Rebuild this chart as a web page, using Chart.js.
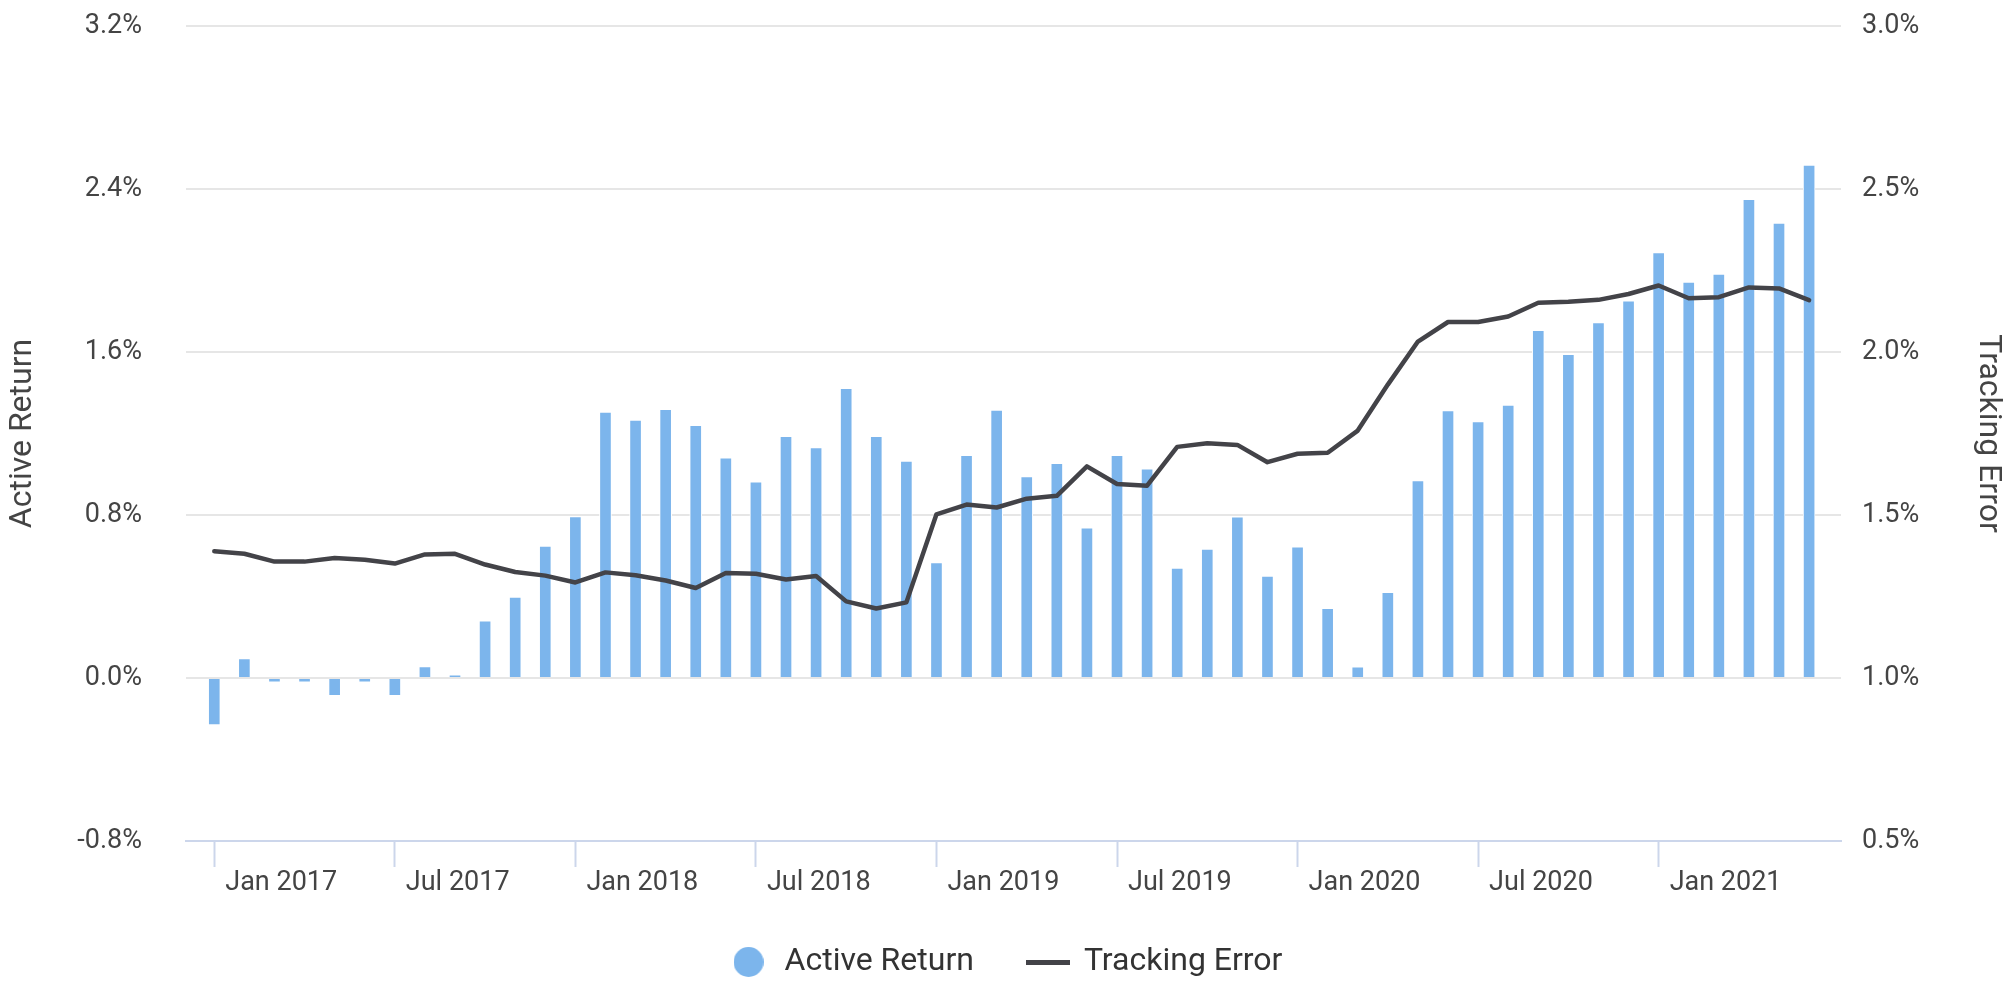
<!DOCTYPE html>
<html>
<head>
<meta charset="utf-8">
<title>Active Return vs Tracking Error</title>
<script src="https://cdn.jsdelivr.net/npm/chart.js@4.4.1/dist/chart.umd.min.js"></script>
<style>
  html, body { margin: 0; padding: 0; background: #ffffff; }
  #chart-box { width: 2011px; height: 981px; }
</style>
</head>
<body>
<div id="chart-box"><canvas id="te-chart" width="2011" height="981"></canvas></div>
<script>
/// -------------- DATA --------------- ///

// one observation per month, Jan 2017 .. Jun 2021
const months = [
    "2017-01", "2017-02", "2017-03", "2017-04", "2017-05", "2017-06",
    "2017-07", "2017-08", "2017-09", "2017-10", "2017-11", "2017-12",
    "2018-01", "2018-02", "2018-03", "2018-04", "2018-05", "2018-06",
    "2018-07", "2018-08", "2018-09", "2018-10", "2018-11", "2018-12",
    "2019-01", "2019-02", "2019-03", "2019-04", "2019-05", "2019-06",
    "2019-07", "2019-08", "2019-09", "2019-10", "2019-11", "2019-12",
    "2020-01", "2020-02", "2020-03", "2020-04", "2020-05", "2020-06",
    "2020-07", "2020-08", "2020-09", "2020-10", "2020-11", "2020-12",
    "2021-01", "2021-02", "2021-03", "2021-04", "2021-05", "2021-06"
];

// active return, %
const activeReturn = [
    -0.23, 0.095, -0.02, -0.02, -0.087, -0.02,
    -0.087, 0.056, 0.016, 0.28, 0.397, 0.647,
    0.792, 1.305, 1.266, 1.319, 1.24, 1.081,
    0.963, 1.186, 1.131, 1.422, 1.186, 1.065,
    0.566, 1.093, 1.315, 0.989, 1.053, 0.737,
    1.093, 1.027, 0.54, 0.633, 0.791, 0.5,
    0.644, 0.342, 0.055, 0.42, 0.969, 1.312,
    1.259, 1.339, 1.706, 1.588, 1.745, 1.851,
    2.088, 1.943, 1.982, 2.349, 2.233, 2.518
];

// tracking error, %
const trackingError = [
    1.389, 1.381, 1.357, 1.357, 1.368, 1.363,
    1.351, 1.379, 1.381, 1.348, 1.325, 1.314,
    1.293, 1.324, 1.315, 1.299, 1.276, 1.322,
    1.320, 1.302, 1.313, 1.235, 1.213, 1.232,
    1.502, 1.532, 1.523, 1.550, 1.559, 1.649,
    1.595, 1.590, 1.709, 1.720, 1.715, 1.662,
    1.688, 1.691, 1.759, 1.900, 2.032, 2.092,
    2.092, 2.109, 2.151, 2.154, 2.160, 2.178,
    2.204, 2.165, 2.168, 2.198, 2.195, 2.159
];

const tickMonths = ["2017-01", "2017-07", "2018-01", "2018-07", "2019-01", "2019-07", "2020-01", "2020-07", "2021-01"];
const xTickLabels = ["Jan 2017", "Jul 2017", "Jan 2018", "Jul 2018", "Jan 2019", "Jul 2019", "Jan 2020", "Jul 2020", "Jan 2021"];
const leftTicks = [-0.8, 0, 0.8, 1.6, 2.4, 3.2];
const rightTicks = [0.5, 1.0, 1.5, 2.0, 2.5, 3.0];

/// -------------- LEGEND ICONS --------------- ///

function makeIcon(w, h, paint) {
    const c = document.createElement("canvas");
    c.width = w;
    c.height = h;
    paint(c.getContext("2d"));
    return c;
}

const circleIcon = makeIcon(30, 30, ctx => {
    ctx.fillStyle = "#7cb5ec";
    ctx.beginPath();
    ctx.arc(15, 15, 15, 0, Math.PI * 2);
    ctx.fill();
});

const lineIcon = makeIcon(44, 5, ctx => {
    ctx.fillStyle = "#434348";
    ctx.fillRect(0, 0, 44, 5);
});

const legendIcons = [circleIcon, lineIcon];

/// -------------- CHART --------------- ///

Chart.defaults.font.family = "Roboto";

const tickFont = { family: "Roboto", size: 27 };
const titleFont = { family: "Roboto", size: 32 };
const clear = "rgba(0,0,0,0)";

new Chart(document.getElementById("te-chart"), {
    type: "bar",
    data: {
        datasets: [{
            type: "bar",
            label: "Active Return",
            data: activeReturn.map((v, i) => ({ x: i, y: v })),
            backgroundColor: "#7cb5ec",
            borderColor: "#ffffff",
            borderWidth: 1,
            barThickness: 12,
            yAxisID: "y",
            order: 1
        }, {
            type: "line",
            label: "Tracking Error",
            data: trackingError.map((v, i) => ({ x: i, y: v })),
            borderColor: "#434348",
            backgroundColor: "#434348",
            borderWidth: 4.5,
            borderJoinStyle: "round",
            borderCapStyle: "round",
            pointRadius: 0,
            tension: 0,
            yAxisID: "y1",
            order: 0
        }]
    },
    options: {
        responsive: false,
        animation: false,
        layout: {
            padding: { top: 26, bottom: -7, left: 0, right: 0 }
        },
        plugins: {
            tooltip: { enabled: false },
            legend: {
                position: "bottom",
                labels: {
                    usePointStyle: true,
                    pointStyleWidth: 40,
                    padding: 54,
                    color: "#333333",
                    font: titleFont,
                    sort: (a, b) => a.datasetIndex - b.datasetIndex,
                    generateLabels: chart =>
                        Chart.defaults.plugins.legend.labels.generateLabels(chart).map(item => ({
                            ...item,
                            pointStyle: legendIcons[item.datasetIndex]
                        }))
                }
            }
        },
        scales: {
            x: {
                type: "linear",
                offset: false,
                min: -0.94,
                max: 54.06,
                afterBuildTicks: scale => {
                    scale.ticks = tickMonths.map(m => ({ value: months.indexOf(m) }));
                },
                afterFit: scale => { scale.height = 51; },
                ticks: {
                    autoSkip: false,
                    maxRotation: 0,
                    align: "start",
                    labelOffset: 11,
                    padding: 0,
                    color: "#444444",
                    font: tickFont,
                    callback: (value, i) => xTickLabels[i]
                },
                grid: {
                    offset: false,
                    drawOnChartArea: false,
                    tickLength: 26,
                    tickWidth: 2,
                    tickColor: "#ccd6eb"
                },
                border: { color: "#ccd6eb", width: 2 }
            },
            y: {
                position: "left",
                min: -0.8,
                max: 3.2,
                afterBuildTicks: scale => {
                    scale.ticks = leftTicks.map(v => ({ value: v }));
                },
                afterFit: scale => { scale.width = 186; },
                ticks: {
                    padding: 0,
                    color: "#444444",
                    font: tickFont,
                    callback: v => v.toFixed(1) + "%"
                },
                grid: {
                    color: ctx => (ctx.tick && ctx.tick.value === -0.8) ? clear : "#e6e6e6",
                    lineWidth: 2,
                    tickLength: 44,
                    tickColor: clear
                },
                border: { display: false },
                title: {
                    display: true,
                    text: "Active Return",
                    color: "#444444",
                    font: titleFont,
                    padding: 4
                }
            },
            y1: {
                position: "right",
                min: 0.5,
                max: 3.0,
                afterBuildTicks: scale => {
                    scale.ticks = rightTicks.map(v => ({ value: v }));
                },
                afterFit: scale => { scale.width = 170; },
                ticks: {
                    padding: 0,
                    color: "#444444",
                    font: tickFont,
                    callback: v => v.toFixed(1) + "%"
                },
                grid: {
                    drawOnChartArea: false,
                    tickLength: 21,
                    tickColor: clear
                },
                border: { display: false },
                title: {
                    display: true,
                    text: "Tracking Error",
                    color: "#444444",
                    font: titleFont,
                    padding: 4
                }
            }
        }
    }
});
</script>
</body>
</html>
